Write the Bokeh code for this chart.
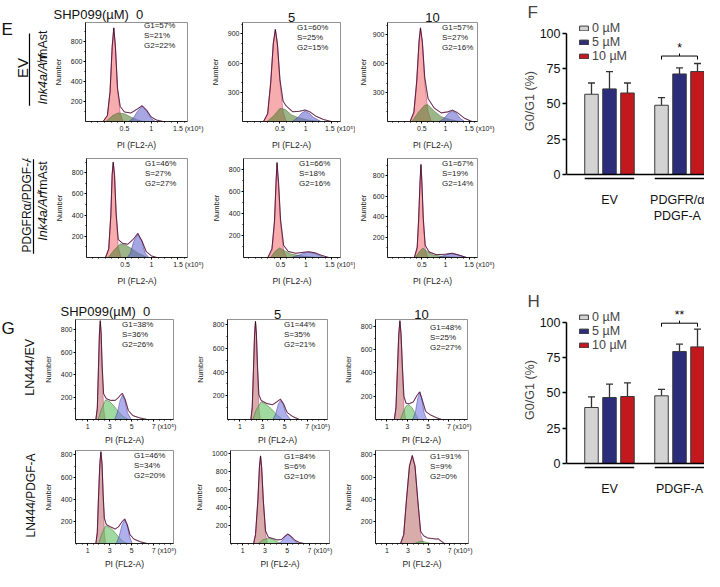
import math
from bokeh.plotting import figure
from bokeh.layouts import row, column
from bokeh.models import (Range1d, FixedTicker, Legend, LegendItem,
                          Whisker, TeeHead, Span, ColumnDataSource)
from bokeh.core.properties import value
from bokeh.embed import file_html
from bokeh.resources import INLINE

FONT = "Liberation Sans"

# ============================ DATA ============================
doses_uM = ["0", "5", "10"]
phase_names = ["G1", "S", "G2"]

# phase percentages printed in the histogram legends  [row][dose]
E_G1_pct = [[57, 60, 57], [46, 66, 67]]
E_S_pct = [[21, 25, 27], [27, 18, 19]]
E_G2_pct = [[22, 15, 16], [27, 16, 14]]
G_G1_pct = [[38, 44, 48], [46, 84, 91]]
G_S_pct = [[36, 35, 25], [34, 6, 9]]
G_G2_pct = [[26, 21, 27], [20, 10, 0]]

E_row_labels = ["EV", "PDGFRα/PDGF-A"]
G_row_labels = ["LN444/EV", "LN444/PDGF-A"]

E_x_ticks = [0.5, 1, 1.5]
G_x_ticks = [1, 3, 5, 7]

# histogram components: (PI, count)
e11_g1 = [(0.10, 0), (0.18, 60), (0.23, 300), (0.27, 750), (0.30, 936), (0.33, 750), (0.37, 320), (0.42, 80), (0.47, 0)]
e11_s = [(0.15, 0), (0.28, 60), (0.38, 86), (0.50, 78), (0.62, 45), (0.75, 15), (0.85, 0)]
e11_g2 = [(0.58, 0), (0.66, 30), (0.74, 100), (0.83, 152), (0.92, 100), (1.00, 30), (1.08, 0)]
e11_fit = [(0.10, 0), (0.18, 60), (0.23, 300), (0.27, 750), (0.30, 936), (0.33, 750), (0.37, 330), (0.42, 150), (0.50, 95), (0.62, 85), (0.74, 125), (0.83, 158), (0.92, 110), (1.00, 45), (1.10, 15), (1.22, 0)]

e12_g1 = [(0.18, 0), (0.26, 80), (0.32, 400), (0.37, 800), (0.41, 946), (0.45, 800), (0.50, 400), (0.56, 100), (0.62, 0)]
e12_s = [(0.25, 0), (0.38, 60), (0.50, 135), (0.60, 125), (0.72, 70), (0.85, 40), (1.05, 15), (1.30, 0)]
e12_g2 = [(0.74, 0), (0.84, 35), (0.92, 85), (0.99, 108), (1.07, 85), (1.16, 40), (1.30, 0)]
e12_fit = [(0.18, 0), (0.26, 80), (0.32, 400), (0.37, 800), (0.41, 946), (0.45, 800), (0.50, 430), (0.56, 210), (0.62, 160), (0.75, 100), (0.88, 105), (0.99, 118), (1.08, 100), (1.20, 55), (1.35, 20), (1.50, 0)]

e13_g1 = [(0.25, 0), (0.33, 80), (0.39, 400), (0.44, 820), (0.47, 960), (0.51, 820), (0.56, 400), (0.63, 100), (0.70, 0)]
e13_s = [(0.29, 0), (0.43, 100), (0.56, 170), (0.63, 175), (0.76, 110), (0.91, 50), (1.10, 20), (1.30, 0)]
e13_g2 = [(0.87, 0), (0.97, 30), (1.06, 85), (1.15, 109), (1.23, 85), (1.32, 30), (1.41, 0)]
e13_fit = [(0.25, 0), (0.33, 100), (0.39, 420), (0.44, 840), (0.47, 975), (0.51, 830), (0.56, 460), (0.63, 240), (0.76, 140), (0.91, 90), (1.05, 100), (1.15, 118), (1.26, 90), (1.40, 35), (1.56, 0)]

e21_g1 = [(0.13, 0), (0.19, 80), (0.23, 400), (0.255, 780), (0.275, 900), (0.30, 780), (0.33, 400), (0.37, 100), (0.42, 0)]
e21_s = [(0.18, 0), (0.30, 75), (0.41, 129), (0.50, 120), (0.62, 85), (0.75, 40), (0.92, 0)]
e21_g2 = [(0.54, 0), (0.60, 40), (0.66, 150), (0.74, 219), (0.82, 150), (0.88, 40), (0.95, 0)]
e21_fit = [(0.13, 0), (0.19, 80), (0.23, 400), (0.255, 780), (0.275, 900), (0.30, 780), (0.33, 420), (0.37, 170), (0.45, 135), (0.55, 125), (0.66, 175), (0.74, 228), (0.82, 155), (0.90, 55), (1.00, 15), (1.10, 0)]

e22_g1 = [(0.25, 0), (0.33, 60), (0.38, 300), (0.41, 650), (0.43, 850), (0.46, 650), (0.50, 300), (0.56, 60), (0.62, 0)]
e22_s = [(0.30, 0), (0.40, 60), (0.48, 86), (0.58, 62), (0.70, 32), (0.90, 15), (1.20, 0)]
e22_g2 = [(0.72, 0), (0.85, 20), (0.96, 40), (1.06, 46), (1.16, 38), (1.26, 18), (1.36, 0)]
e22_fit = [(0.25, 0), (0.33, 80), (0.38, 330), (0.41, 680), (0.43, 860), (0.46, 680), (0.50, 340), (0.56, 110), (0.65, 55), (0.80, 38), (0.96, 48), (1.06, 52), (1.18, 42), (1.30, 20), (1.45, 0)]

e23_g1 = [(0.34, 0), (0.40, 80), (0.43, 350), (0.46, 720), (0.48, 900), (0.50, 720), (0.53, 350), (0.57, 80), (0.62, 0)]
e23_s = [(0.36, 0), (0.45, 60), (0.52, 93), (0.62, 55), (0.75, 22), (1.00, 10), (1.28, 0)]
e23_g2 = [(0.85, 0), (0.96, 18), (1.06, 33), (1.14, 37), (1.22, 32), (1.32, 15), (1.42, 0)]
e23_fit = [(0.34, 0), (0.40, 100), (0.43, 370), (0.46, 740), (0.48, 910), (0.50, 740), (0.53, 380), (0.57, 120), (0.65, 55), (0.80, 28), (1.00, 32), (1.14, 42), (1.30, 22), (1.45, 0)]

g11_g1 = [(1.75, 0), (1.88, 100), (1.98, 430), (2.07, 750), (2.15, 870), (2.23, 750), (2.32, 430), (2.45, 100), (2.60, 0)]
g11_s = [(1.95, 0), (2.25, 90), (2.62, 174), (3.00, 160), (3.40, 120), (3.80, 70), (4.20, 30), (4.70, 0)]
g11_g2 = [(3.45, 0), (3.70, 60), (3.95, 170), (4.16, 216), (4.38, 170), (4.62, 60), (4.95, 0)]
g11_fit = [(1.75, 0), (1.88, 100), (1.98, 440), (2.07, 760), (2.15, 880), (2.23, 770), (2.32, 480), (2.45, 230), (2.70, 185), (3.10, 170), (3.50, 170), (3.80, 195), (4.05, 225), (4.16, 232), (4.40, 180), (4.70, 80), (5.10, 35), (5.70, 15), (6.40, 0)]

g12_g1 = [(1.98, 0), (2.10, 100), (2.21, 420), (2.31, 720), (2.39, 820), (2.47, 720), (2.57, 420), (2.69, 100), (2.82, 0)]
g12_s = [(2.15, 0), (2.45, 80), (2.89, 150), (3.30, 130), (3.80, 90), (4.30, 40), (4.80, 0)]
g12_g2 = [(3.95, 0), (4.20, 50), (4.42, 130), (4.61, 160), (4.85, 130), (5.10, 50), (5.50, 0)]
g12_fit = [(1.98, 0), (2.10, 100), (2.21, 420), (2.31, 720), (2.39, 830), (2.47, 730), (2.57, 450), (2.69, 210), (2.90, 160), (3.40, 135), (3.90, 125), (4.30, 150), (4.61, 172), (4.90, 130), (5.20, 60), (5.70, 25), (6.30, 0)]

g13_g1 = [(1.72, 0), (1.88, 100), (2.02, 430), (2.15, 730), (2.26, 840), (2.37, 730), (2.50, 430), (2.65, 100), (2.82, 0)]
g13_s = [(2.30, 0), (2.60, 70), (2.90, 120), (3.12, 126), (3.45, 100), (3.75, 50), (4.05, 0)]
g13_g2 = [(3.50, 0), (3.75, 60), (3.98, 180), (4.18, 231), (4.38, 180), (4.60, 60), (4.85, 0)]
g13_fit = [(1.72, 0), (1.88, 100), (2.02, 430), (2.15, 730), (2.26, 850), (2.37, 740), (2.50, 460), (2.65, 200), (2.85, 140), (3.15, 135), (3.55, 150), (3.90, 205), (4.18, 238), (4.45, 160), (4.75, 70), (5.20, 40), (5.80, 15), (6.30, 0)]

g21_g1 = [(1.75, 0), (1.88, 100), (1.99, 420), (2.11, 720), (2.21, 820), (2.31, 720), (2.41, 420), (2.52, 100), (2.64, 0)]
g21_s = [(2.00, 0), (2.30, 90), (2.62, 159), (3.00, 145), (3.40, 110), (3.80, 60), (4.20, 20), (4.60, 0)]
g21_g2 = [(3.60, 0), (3.85, 60), (4.12, 165), (4.37, 212), (4.60, 165), (4.82, 60), (5.05, 0)]
g21_fit = [(1.75, 0), (1.88, 100), (1.99, 420), (2.11, 720), (2.21, 830), (2.31, 720), (2.41, 450), (2.52, 230), (2.70, 170), (3.10, 150), (3.50, 130), (3.80, 150), (4.12, 195), (4.37, 222), (4.60, 170), (4.85, 80), (5.20, 40), (5.80, 15), (6.40, 0)]

g22_g1 = [(1.98, 0), (2.15, 100), (2.36, 480), (2.50, 850), (2.60, 970), (2.70, 850), (2.85, 480), (3.05, 100), (3.22, 0)]
g22_s = [(2.40, 0), (2.80, 40), (3.30, 58), (3.65, 50), (4.00, 25), (4.40, 0)]
g22_g2 = [(4.25, 0), (4.55, 30), (4.82, 80), (5.05, 100), (5.30, 80), (5.62, 30), (6.00, 0)]
g22_fit = [(1.98, 0), (2.15, 100), (2.36, 480), (2.50, 850), (2.60, 975), (2.70, 850), (2.85, 480), (3.05, 140), (3.30, 70), (3.70, 55), (4.10, 40), (4.50, 45), (4.82, 85), (5.05, 105), (5.30, 85), (5.70, 35), (6.10, 10), (6.50, 0)]

g23_g1 = [(2.30, 0), (2.60, 80), (2.85, 380), (3.15, 700), (3.42, 787), (3.68, 700), (3.95, 380), (4.22, 80), (4.50, 0)]
g23_s = [(3.60, 0), (4.00, 15), (4.40, 20), (4.80, 10), (5.20, 0)]
g23_g2 = []
g23_fit = [(2.30, 0), (2.60, 80), (2.85, 380), (3.15, 700), (3.42, 795), (3.68, 700), (3.95, 390), (4.22, 110), (4.50, 70), (4.90, 50), (5.30, 45), (5.70, 40), (5.90, 42), (6.20, 20), (6.50, 0)]

# y-axis extents / ticks of each histogram
hist_ymax = {"e11": 990, "e12": 1017, "e13": 1030, "e21": 935, "e22": 896, "e23": 967,
             "g11": 890, "g12": 845, "g13": 860, "g21": 840, "g22": 1035, "g23": 840}
yt_200 = [200, 400, 600, 800]
yt_300 = [300, 600, 900]
yt_1000 = [200, 400, 600, 800, 1000]

# bar charts F and H : G0/G1 (%) mean and upper error
bar_doses = ["0 µM", "5 µM", "10 µM"]
F_groups = ["EV", "PDGFR/α\nPDGF-A"]
F_mean_0 = [56.9, 49.1]
F_mean_5 = [60.7, 71.3]
F_mean_10 = [57.8, 73.0]
F_err_0 = [8.0, 5.4]
F_err_5 = [12.3, 4.3]
F_err_10 = [7.1, 5.7]
F_sig_y = 84.0
F_sig_text = "*"

H_groups = ["EV", "PDGF-A"]
H_mean_0 = [39.7, 48.0]
H_mean_5 = [46.8, 79.4]
H_mean_10 = [47.5, 82.7]
H_err_0 = [7.6, 4.5]
H_err_5 = [9.5, 5.2]
H_err_10 = [9.7, 12.6]
H_sig_y = 99.5
H_sig_text = "**"

bar_ticks = [0, 25, 50, 75, 100]

# ============================ STYLE ============================
E_XR = (-0.23, 1.68)
G_XR = (-0.1, 8.8)
E_FILL = {"g1": ("#f06a6a", 0.55), "s": ("#557f33", 0.58), "g2": ("#6565cf", 0.58)}
G_FILL = {"g1": ("#c07474", 0.6), "s": ("#5cbf5c", 0.58), "g2": ("#7676e0", 0.58)}
EDGE = {"g1": "#c0306a", "s": "#3f6a2a", "g2": "#36369a"}
SWATCH = ["#d81b60", "#3f8c47", "#8a8ad0"]
BAR_COLORS = ["#d3d3d3", "#2b2c7a", "#c3191e"]

GROUP_POS = [0, 1]
DOSE_OFF = [-0.257, 0.0, 0.257]
BAR_W = 0.193
PAD = "\u2007" * 5 + "\u2009"


def label_fig(box):
    x0, y0, x1, y1 = box
    p = figure(width=x1 - x0, height=y1 - y0, x_range=Range1d(0, x1 - x0),
               y_range=Range1d(0, y1 - y0), x_axis_type=None, y_axis_type=None,
               output_backend="svg", toolbar_location=None, min_border=0,
               outline_line_color=None)
    p.grid.visible = False
    p.background_fill_alpha = 0
    p.border_fill_alpha = 0
    p._box = box
    return p


def ltext(p, px, py, text, size, align="center", angle=0.0, style="normal"):
    x0, y0, x1, y1 = p._box
    p.text(x=[px - x0], y=[y1 - py], text=[text], angle=angle, text_font=value(FONT),
           text_font_size=value(f"{size}px"), text_align=align, text_baseline="middle",
           text_font_style=style, text_color="#111111")


def lline(p, px, py0, py1):
    x0, y0, x1, y1 = p._box
    p.segment(x0=[px - x0], y0=[y1 - py0], x1=[px - x0], y1=[y1 - py1],
              line_color="black", line_width=1.2)


def style_axis(a, size="7px"):
    a.axis_line_color = "black"
    a.axis_line_width = 0.8
    a.major_tick_line_color = "black"
    a.minor_tick_line_color = "black"
    a.major_tick_in = 0
    a.minor_tick_in = 0
    a.major_tick_out = 2
    a.minor_tick_out = 1
    a.major_label_text_font = FONT
    a.major_label_text_font_size = size
    a.major_label_standoff = 1
    a.major_label_text_color = "#222222"
    a.axis_label_text_font = FONT
    a.axis_label_text_font_style = "normal"
    a.axis_label_text_color = "#222222"


def hist_fig(key, curves, kind, pcts, box, frame, yt, leg_dx, leg_top, title, title_off,
             num_standoff, pi_standoff):
    x0, y0, x1, y1 = box
    fx0, fy0, fx1, fy1 = frame
    xr = E_XR if kind == "E" else G_XR
    ymax = hist_ymax[key]
    p = figure(width=x1 - x0, height=y1 - y0, x_range=Range1d(*xr), y_range=Range1d(0, ymax),
               output_backend="svg", toolbar_location=None, min_border=0,
               min_border_left=fx0 - x0, min_border_right=x1 - fx1,
               min_border_top=fy0 - y0, min_border_bottom=y1 - fy1)
    p.grid.visible = False
    p.outline_line_color = "#777777"
    p.outline_line_width = 0.8
    if title is not None:
        p.title.text = title
        p.title.align = "left" if title_off is not None else "center"
        p.title.offset = title_off or 0
        p.title.text_font = FONT
        p.title.text_font_size = "13px"
        p.title.text_font_style = "normal"
        p.title.text_color = "#111111"
        p.title.standoff = 2
    fills = E_FILL if kind == "E" else G_FILL
    for comp in ("g1", "s", "g2"):
        pts = curves[comp]
        if pts:
            col, al = fills[comp]
            p.patch([a for a, b in pts], [b for a, b in pts], fill_color=col, fill_alpha=al,
                    line_color=EDGE[comp], line_width=0.6, line_alpha=0.8)
    fx = [a for a, b in curves["fit"]]
    fy = [b for a, b in curves["fit"]]
    p.line(fx, fy, line_color="#d0308a", line_width=1.1, line_alpha=0.6)
    p.line(fx, fy, line_color="black", line_width=0.6)

    xa, ya = p.xaxis[0], p.yaxis[0]
    style_axis(xa)
    style_axis(ya)
    if kind == "E":
        xa.ticker = FixedTicker(ticks=E_x_ticks, minor_ticks=[0.125 * i for i in range(-1, 14)])
        xa.major_label_overrides = {0.5: "0.5", 1: "1", 1.5: PAD + "1.5 (x10⁵)"}
    else:
        xa.ticker = FixedTicker(ticks=G_x_ticks, minor_ticks=[0.5 * i for i in range(0, 18)])
        xa.major_label_overrides = {1: "1", 3: "3", 5: "5", 7: PAD + "7 (x10⁵)"}
    ya.ticker = FixedTicker(ticks=yt, minor_ticks=list(range(100, int(ymax), 100)))
    ya.axis_label = "Number"
    ya.axis_label_text_font_size = "7.5px"
    ya.axis_label_standoff = num_standoff
    xa.axis_label = "PI (FL2-A)"
    xa.axis_label_text_font_size = "8.5px"
    xa.axis_label_standoff = pi_standoff

    items = []
    for nm, pc, c in zip(phase_names, pcts, SWATCH):
        r = p.quad(left=[], right=[], top=[], bottom=[], fill_color=c, line_color="#111111",
                   line_width=0.7)
        items.append(LegendItem(label=f"{nm}={pc}%", renderers=[r]))
    fh = fy1 - fy0
    leg = Legend(items=items, location=(leg_dx, fh - (leg_top - 5) - 30),
                 glyph_width=7, glyph_height=5, label_text_font=FONT,
                 label_text_font_size="8px", label_height=10, label_standoff=2,
                 spacing=0, padding=0, margin=0, border_line_color=None,
                 background_fill_alpha=0, label_text_color="#222222")
    p.add_layout(leg)
    return p


def bar_fig(box, frame, yr, groups, means, errs, sig_y, sig_text, letter):
    x0, y0, x1, y1 = box
    fx0, fy0, fx1, fy1 = frame
    p = figure(width=x1 - x0, height=y1 - y0, x_range=Range1d(-0.614, 1.357),
               y_range=Range1d(*yr), output_backend="svg", toolbar_location=None,
               min_border=0, min_border_left=fx0 - x0, min_border_right=x1 - fx1,
               min_border_top=fy0 - y0, min_border_bottom=y1 - fy1)
    p.grid.visible = False
    p.outline_line_color = None
    p.title.text = letter
    p.title.align = "left"
    p.title.offset = -39
    p.title.text_font = FONT
    p.title.text_font_size = "17px"
    p.title.text_font_style = "normal"
    p.title.standoff = 0
    items = []
    for i, (lab, col) in enumerate(zip(bar_doses, BAR_COLORS)):
        xs = [g + DOSE_OFF[i] for g in GROUP_POS]
        src = ColumnDataSource(dict(x=xs, top=means[i],
                                    upper=[m + e for m, e in zip(means[i], errs[i])]))
        p.add_layout(Whisker(source=src, base="x", lower="top", upper="upper",
                             line_color="#333333", line_width=1.3, lower_head=None,
                             upper_head=TeeHead(size=7, line_color="#333333", line_width=1.3)))
        r = p.vbar(x="x", top="top", bottom=0, width=BAR_W, source=src, fill_color=col,
                   line_color="#3a3a3a", line_width=1)
        items.append(LegendItem(label=lab, renderers=[r]))
    # group underlines
    p.segment(x0=[g + DOSE_OFF[0] - BAR_W / 2 for g in GROUP_POS], y0=[-2.8, -2.8],
              x1=[g + DOSE_OFF[2] + BAR_W / 2 for g in GROUP_POS], y1=[-2.8, -2.8],
              line_color="black", line_width=1.5)
    # significance bracket over the second group
    g = GROUP_POS[1]
    bx0, bxm, bx1 = g + DOSE_OFF[0], g + DOSE_OFF[1], g + DOSE_OFF[2]
    p.multi_line(xs=[[bx0, bx0, bx1, bx1], [bxm, bxm]],
                 ys=[[sig_y - 2.5, sig_y, sig_y, sig_y - 2.5], [sig_y, sig_y + 1.8]],
                 line_color="black", line_width=1)
    p.text(x=[bxm], y=[sig_y + 1.0], text=[sig_text], text_align="center",
           text_baseline="bottom", text_font=value(FONT), text_font_size=value("12px"))
    p.add_layout(Span(location=0, dimension="width", line_color="black", line_width=1.5))

    xa, ya = p.xaxis[0], p.yaxis[0]
    xa.ticker = FixedTicker(ticks=GROUP_POS)
    xa.major_label_overrides = {0: groups[0], 1: groups[1]}
    xa.axis_line_color = None
    xa.major_tick_line_color = None
    xa.minor_tick_line_color = None
    xa.major_label_standoff = 6
    xa.major_label_text_font = FONT
    xa.major_label_text_font_size = "12.5px"
    xa.major_label_text_color = "#111111"
    ya.ticker = FixedTicker(ticks=bar_ticks)
    ya.bounds = (0, 100)
    ya.axis_line_width = 1.5
    ya.major_tick_line_width = 1.5
    ya.major_tick_in = 0
    ya.major_tick_out = 4
    ya.minor_tick_line_color = None
    ya.major_label_standoff = 2
    ya.major_label_text_font = FONT
    ya.major_label_text_font_size = "12.5px"
    ya.major_label_text_color = "#111111"
    ya.axis_label = "G0/G1 (%)"
    ya.axis_label_text_font = FONT
    ya.axis_label_text_font_size = "12.5px"
    ya.axis_label_text_font_style = "normal"
    ya.axis_label_standoff = 0
    fh = fy1 - fy0
    p.add_layout(Legend(items=items, location=(12, fh - 42), glyph_width=11, glyph_height=6,
                        label_text_font=FONT, label_text_font_size="12.5px", label_height=14,
                        label_standoff=3, spacing=0, padding=0, margin=0,
                        border_line_color=None, background_fill_alpha=0))
    return p


CURVES = {
    "e11": dict(g1=e11_g1, s=e11_s, g2=e11_g2, fit=e11_fit),
    "e12": dict(g1=e12_g1, s=e12_s, g2=e12_g2, fit=e12_fit),
    "e13": dict(g1=e13_g1, s=e13_s, g2=e13_g2, fit=e13_fit),
    "e21": dict(g1=e21_g1, s=e21_s, g2=e21_g2, fit=e21_fit),
    "e22": dict(g1=e22_g1, s=e22_s, g2=e22_g2, fit=e22_fit),
    "e23": dict(g1=e23_g1, s=e23_s, g2=e23_g2, fit=e23_fit),
    "g11": dict(g1=g11_g1, s=g11_s, g2=g11_g2, fit=g11_fit),
    "g12": dict(g1=g12_g1, s=g12_s, g2=g12_g2, fit=g12_fit),
    "g13": dict(g1=g13_g1, s=g13_s, g2=g13_g2, fit=g13_fit),
    "g21": dict(g1=g21_g1, s=g21_s, g2=g21_g2, fit=g21_fit),
    "g22": dict(g1=g22_g1, s=g22_s, g2=g22_g2, fit=g22_fit),
    "g23": dict(g1=g23_g1, s=g23_s, g2=g23_g2, fit=g23_fit),
}

T_0 = "SHP099(µM)\u00a0\u00a0" + doses_uM[0]
# pixel layout: box, frame, yticks, legend dx, legend top, title, title offset, Number standoff, PI standoff
LAYOUT = {
    "e11": ((50, 0, 205, 152), (85, 22, 187, 126), yt_200, 50, 8, T_0, -32, 5, 5),
    "e12": ((205, 0, 355, 152), (242, 22, 340, 126), yt_300, 46, 10, doses_uM[1], None, 5, 5),
    "e13": ((355, 0, 500, 152), (380, 22, 477, 126), yt_300, 46, 10, doses_uM[2], None, 2, 5),
    "e21": ((50, 152, 205, 288), (86, 158, 187, 262), yt_200, 50, 10, None, None, 5, 5),
    "e22": ((205, 152, 355, 288), (243, 158, 340, 262), yt_200, 47, 10, None, None, 5, 5),
    "e23": ((355, 152, 500, 288), (381, 158, 477, 262), yt_200, 46, 10, None, None, 2, 5),
    "g11": ((40, 288, 190, 447), (70, 319, 173, 423), yt_200, 38, 9, T_0, -15, 5, 2),
    "g12": ((190, 288, 340, 447), (227, 319, 327, 423), yt_200, 48, 9, doses_uM[1], None, 5, 2),
    "g13": ((340, 288, 500, 447), (370, 313, 467, 422), yt_200, 46, 17, doses_uM[2], None, 5, 2),
    "g21": ((40, 447, 190, 571), (70, 450, 173, 548), yt_200, 50, 10, None, None, 5, 2),
    "g22": ((190, 447, 340, 571), (230, 450, 329, 548), yt_1000, 45, 11, None, None, 5, 2),
    "g23": ((340, 447, 500, 571), (372, 450, 468, 548), yt_200, 46, 11, None, None, 5, 2),
}

figs = {}
for key, (box, frame, yt, ldx, ltop, title, toff, nst, pst) in LAYOUT.items():
    kind = "E" if key[0] == "e" else "G"
    r = int(key[1]) - 1
    c = int(key[2]) - 1
    if kind == "E":
        pcts = [E_G1_pct[r][c], E_S_pct[r][c], E_G2_pct[r][c]]
    else:
        pcts = [G_G1_pct[r][c], G_S_pct[r][c], G_G2_pct[r][c]]
    figs[key] = hist_fig(key, CURVES[key], kind, pcts, box, frame, yt, ldx, ltop, title, toff,
                         nst, pst)

# label columns (panel letters, row labels)
labE1 = label_fig((0, 0, 50, 152))
labE2 = label_fig((0, 152, 50, 288))
labG1 = label_fig((0, 288, 40, 447))
labG2 = label_fig((0, 447, 40, 571))

HALF_PI = math.pi / 2
ltext(labE1, 1, 11, "E", 17, align="left")
lline(labE1, 29, 17, 128)
ltext(labE1, 22, 70, E_row_labels[0], 15, angle=HALF_PI)
lline(labE2, 33, 153, 283)
ltext(labE2, 26, 214, E_row_labels[1], 12, angle=HALF_PI)
for lab, base in ((labE1, 126), (labE2, 265)):
    ltext(lab, 42, base, "Ink4a/Arf", 12.5, align="left", angle=HALF_PI, style="italic")
    ltext(lab, 38.5, base - 60, "-/-", 8, align="left", angle=HALF_PI)
    ltext(lab, 42, base - 70, "mAst", 12.5, align="left", angle=HALF_PI)
ltext(labG1, 1, 302, "G", 17, align="left")
ltext(labG1, 29, 364, G_row_labels[0], 12.5, angle=HALF_PI)
ltext(labG2, 30, 507, G_row_labels[1], 12, angle=HALF_PI)

pF = bar_fig((500, 0, 704, 282), (566, 21, 704, 180), (-4.26, 108.5), F_groups,
             [F_mean_0, F_mean_5, F_mean_10], [F_err_0, F_err_5, F_err_10],
             F_sig_y, F_sig_text, "F")
pH = bar_fig((500, 282, 704, 571), (566, 310, 704, 469), (-4.26, 108.5), H_groups,
             [H_mean_0, H_mean_5, H_mean_10], [H_err_0, H_err_5, H_err_10],
             H_sig_y, H_sig_text, "H")

left = column(
    row(labE1, figs["e11"], figs["e12"], figs["e13"]),
    row(labE2, figs["e21"], figs["e22"], figs["e23"]),
    row(labG1, figs["g11"], figs["g12"], figs["g13"]),
    row(labG2, figs["g21"], figs["g22"], figs["g23"]),
)
right = column(pF, pH)
layout = row(left, right)

open("out.html", "w").write(file_html(layout, INLINE))
